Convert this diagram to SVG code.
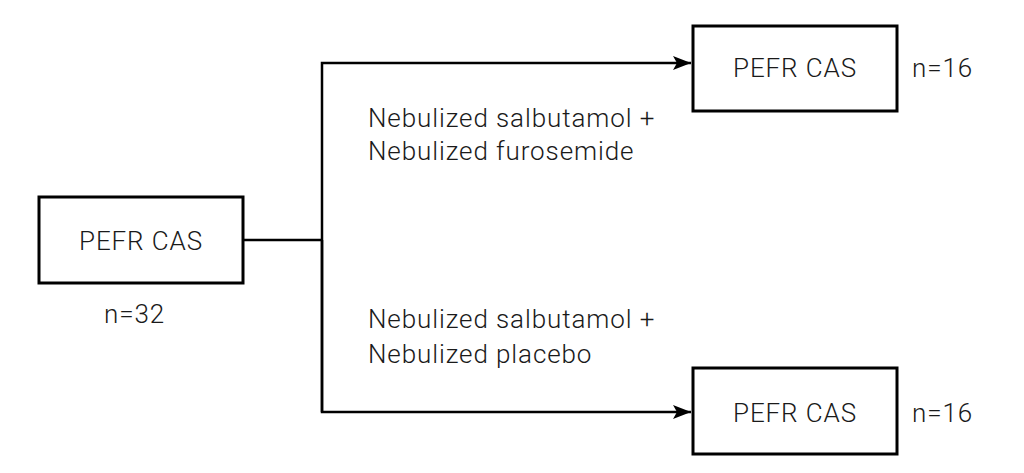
<svg xmlns="http://www.w3.org/2000/svg" width="1024" height="473" viewBox="0 0 1024 473">
<defs>
<style>
.box{fill:#fff;stroke:#000;stroke-width:3}
.t{font-family:Roboto,"Liberation Sans",sans-serif;font-weight:300;font-size:26px;letter-spacing:0.9px;fill:#1a1a1a}
.c{text-anchor:middle}
.ln{fill:none;stroke:#000;stroke-width:2.5}
</style>
<marker id="a" markerWidth="20" markerHeight="20" refX="18" refY="7" orient="auto" markerUnits="userSpaceOnUse"><path d="M0,0 L18,7 L0,14 L4,7 Z" fill="#000"/></marker>
</defs>
<rect width="1024" height="473" fill="#fff"/>
<g id="connectors">
<path class="ln" d="M243,240 H322"/>
<path class="ln" d="M322,412 V63 H691" marker-end="url(#a)"/>
<path class="ln" d="M322,240 V412 H691" marker-end="url(#a)"/>
</g>
<g id="start">
<rect class="box" x="39" y="197" width="204" height="86"/>
<text class="t c" x="141" y="250">PEFR CAS</text>
<text class="t" x="104" y="323">n=32</text>
</g>
<g id="top">
<rect class="box" x="693" y="26" width="204" height="85"/>
<text class="t c" x="795" y="77">PEFR CAS</text>
<text class="t" x="912" y="77">n=16</text>
</g>
<g id="bottom">
<rect class="box" x="693" y="368" width="204" height="86"/>
<text class="t c" x="795" y="422">PEFR CAS</text>
<text class="t" x="912" y="422">n=16</text>
</g>
<g id="labels">
<text class="t" x="368" y="127">Nebulized salbutamol +</text>
<text class="t" x="368" y="160">Nebulized furosemide</text>
<text class="t" x="368" y="328">Nebulized salbutamol +</text>
<text class="t" x="368" y="363">Nebulized placebo</text>
</g>
</svg>
